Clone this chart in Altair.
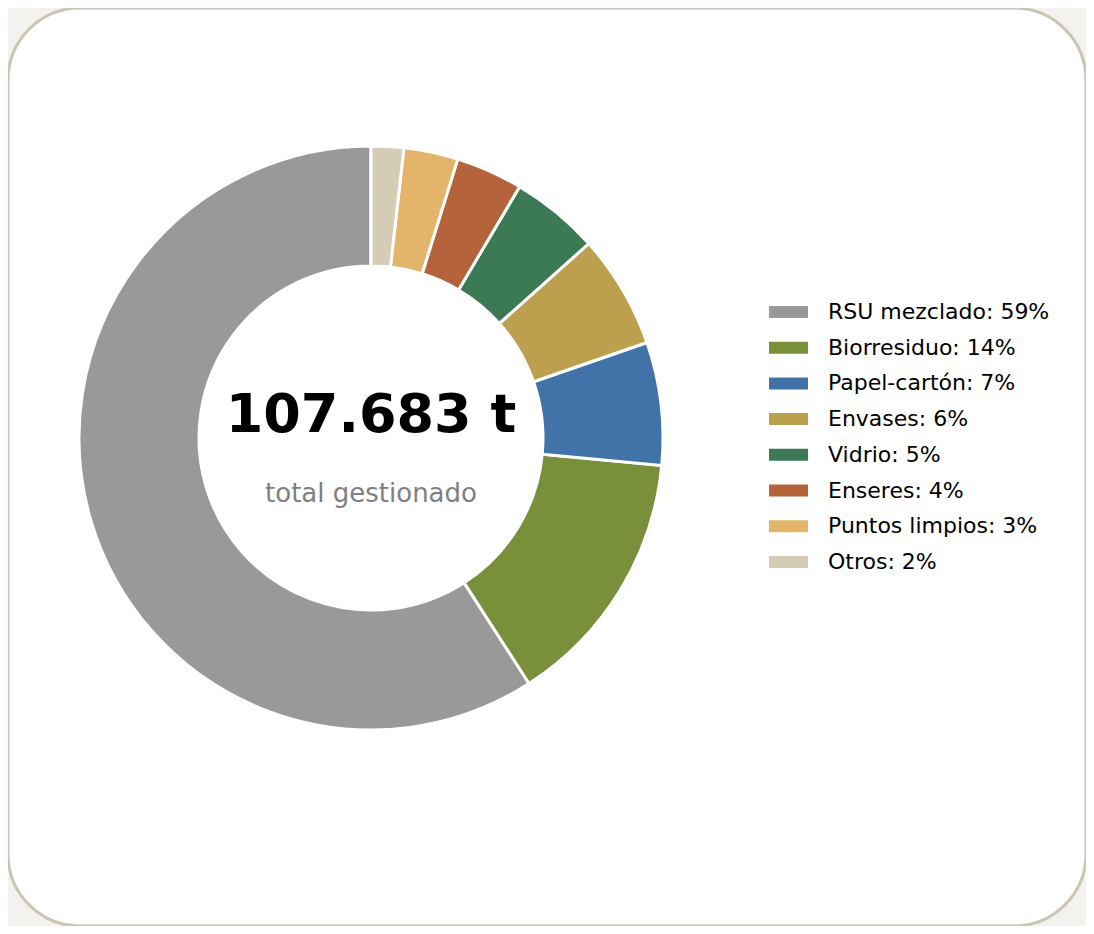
import altair as alt
import pandas as pd

categories = ["RSU mezclado", "Biorresiduo", "Papel-cartón", "Envases",
              "Vidrio", "Enseres", "Puntos limpios", "Otros"]
tonnes = [63643, 15506, 7322, 6784, 5276, 3984, 3230, 1938]
colors = ["#999999", "#7a8f3a", "#4173a8", "#bda04d",
          "#3b7a55", "#b5633a", "#e3b46a", "#d5ccb6"]
subtitle = "total gestionado"

total = sum(tonnes)
labels = [f"{c}: {round(v / total * 100)}%" for c, v in zip(categories, tonnes)]
total_text = f"{total:,}".replace(",", ".") + " t"

df = pd.DataFrame({"label": labels, "value": tonnes, "idx": list(range(len(labels)))})

CX, CY = 363, 430

donut = alt.Chart(df).mark_arc(
    innerRadius=172, outerRadius=292, stroke="white", strokeWidth=3
).encode(
    theta=alt.Theta("value:Q", stack=True),
    order=alt.Order("idx:Q", sort="descending"),
    color=alt.Color(
        "label:N",
        scale=alt.Scale(domain=labels, range=colors),
        sort=labels,
        legend=alt.Legend(
            title=None, orient="none", legendX=760, legendY=293,
            symbolType="M-1,-0.6H2.9V0.6H-1Z", symbolSize=400,
            symbolStrokeWidth=0, labelFontSize=22, labelFont="DejaVu Sans",
            labelColor="#000000", labelOffset=38, clipHeight=22,
            rowPadding=13.7, padding=0, labelLimit=400,
        ),
    ),
    x=alt.value(CX), y=alt.value(CY),
)

big = alt.Chart(pd.DataFrame({"t": [total_text]})).mark_text(
    font="DejaVu Sans", fontSize=54, fontWeight="bold", color="#000000",
    align="center", baseline="alphabetic"
).encode(text="t:N", x=alt.value(CX), y=alt.value(CY - 6))

small = alt.Chart(pd.DataFrame({"t": [subtitle]})).mark_text(
    font="DejaVu Sans", fontSize=26, color="#808080",
    align="center", baseline="alphabetic"
).encode(text="t:N", x=alt.value(CX), y=alt.value(CY + 64))

chart = alt.layer(donut, big, small).properties(
    width=1078, height=918, padding=0, background="#f3f2ee",
    autosize=alt.AutoSizeParams(type="none"),
).configure_view(
    fill="white", stroke="#cdc5b3", strokeWidth=3, cornerRadius=72
)

chart.save("out.html", embed_options={"renderer": "svg", "actions": False})
